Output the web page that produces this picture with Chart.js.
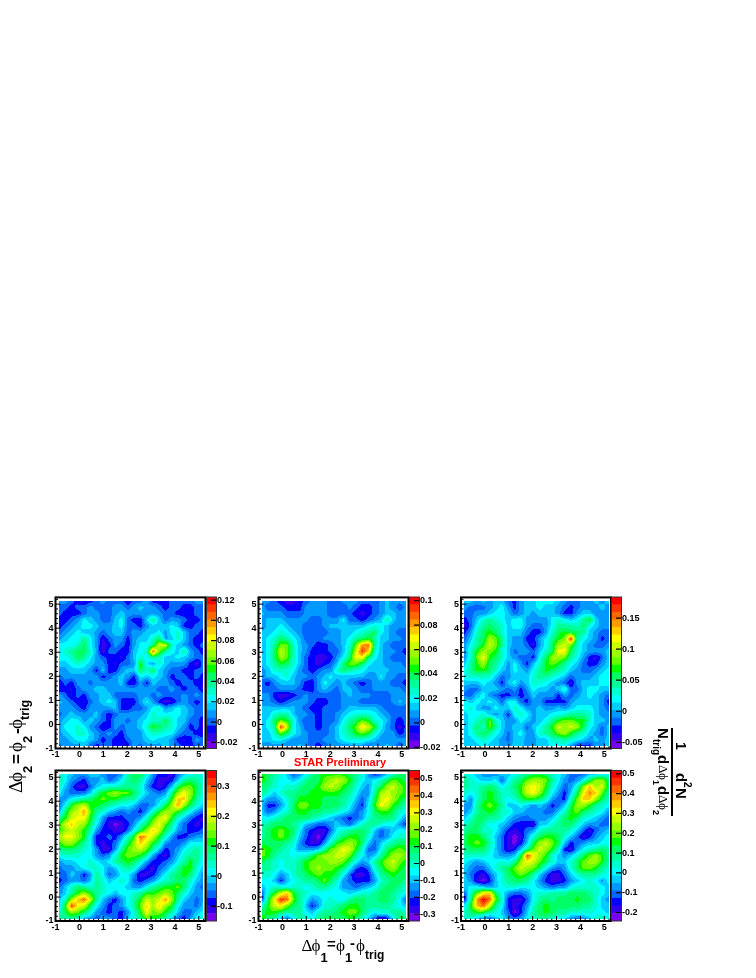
<!DOCTYPE html>
<html><head><meta charset="utf-8">
<style>
html,body{margin:0;padding:0;background:#fff;width:756px;height:978px;overflow:hidden}
canvas{position:absolute}
.t{position:absolute;white-space:nowrap;line-height:1;color:#000}
.g{font-family:"Liberation Serif",serif}
.s{font-family:"Liberation Sans",sans-serif;font-weight:bold}
</style>
<script src="https://cdn.jsdelivr.net/npm/chart.js@4"></script>
</head><body>
<script>
// bin centres (both axes)
const nodes=[-0.87,-0.61,-0.35,-0.08,0.18,0.44,0.70,0.96,1.23,1.49,1.75,2.01,2.27,2.54,2.80,3.06,3.32,3.58,3.85,4.11,4.37,4.63,4.89,5.15];
// values in thousandths, rows from top (y=5.15) to bottom (y=-0.87)
const panel1=[
[8,8,0,-8,-12,-8, 0,8,0,0,0,-12, 0,0,8,-8,-8,-8, 0,0,0,0,8,8],
[0,0,-8,0,0,8, 0,0,0,8,8,0, 8,15,8,8,0,-8, 0,0,-8,-8,0,0],
[0,-8,-8,-8,0,8, 8,0,0,8,15,8, 8,8,8,8,8,0, 0,-8,-8,-8,0,0],
[-8,-8,0,8,22,15, 8,0,0,15,22,0, -8,-8,15,38,15,0, 8,8,0,-8,-8,0],
[-8,0,8,15,22,22, 15,8,8,15,22,0, 0,-8,8,15,15,15, 22,15,-8,-8,0,0],
[0,8,15,22,15,15, 8,0,8,15,15,0, 8,8,15,15,22,8, 22,30,15,0,0,-8],
[8,15,22,22,38,22, 8,-12,0,8,8,-8, 8,15,15,30,45,8, 15,30,15,0,-8,-8],
[22,22,22,30,45,22, 8,-17,-8,8,0,-8, 8,22,22,38,75,75, 30,15,8,0,-8,0],
[22,30,38,45,45,30, 8,-17,0,0,-8,-8, 15,22,30,105,60,38, 22,15,38,8,0,-8],
[22,22,30,45,38,22, 8,0,-8,-8,-12,0, 15,30,22,38,30,15, 15,22,15,8,0,0],
[15,15,22,30,22,15, 8,8,-8,-12,0,0, 8,52,22,8,30,15, 8,8,8,-8,-17,0],
[8,8,15,15,15,8, -8,15,-8,-8,8,15, 15,45,30,45,15,8, 0,0,-8,-8,0,0],
[0,8,8,8,8,8, 8,-8,0,8,15,8, -8,22,15,22,15,8, -8,0,0,-8,0,-8],
[-12,0,-8,8,8,0, 8,8,8,8,15,-8, -12,8,-8,15,8,8, 0,-8,0,0,-8,-12],
[-12,-8,-12,0,8,8, 15,15,8,8,8,8, 8,8,8,8,0,0, 8,0,-8,0,0,-12],
[8,0,-12,0,-8,8, 8,15,15,0,0,0, 0,8,8,0,8,0, 0,0,8,0,8,0],
[15,8,0,-8,-12,0, 8,15,22,15,-8,-8, -8,8,22,8,-8,-17, -12,0,8,0,-8,0],
[8,8,8,0,-8,8, 8,8,8,15,-8,-8, 0,0,8,22,30,8, 15,22,15,8,0,0],
[0,8,15,8,8,8, 15,0,-8,0,8,8, 8,8,15,30,22,22, 22,22,15,8,0,0],
[8,15,22,22,8,15, 8,0,-8,8,8,0, 8,15,22,30,30,45, 30,15,15,0,0,-12],
[8,22,22,30,22,8, 0,-12,-8,8,0,8, 8,15,30,52,45,38, 30,15,8,-8,0,-12],
[8,15,22,30,30,15, 8,0,8,0,-8,8, 8,8,22,30,30,22, 22,8,0,0,-8,-12],
[8,8,15,22,22,15, 8,-8,0,-8,-8,0, 8,8,15,22,15,15, 8,-8,-12,-8,8,0],
[0,8,8,8,15,0, -8,0,0,-8,-12,-8, 8,0,8,8,8,15, 8,0,-8,-8,0,0]];
const panel2=[
[6,6,0,-6,-12,-12, -6,0,6,6,6,0, 0,6,6,6,0,0, 0,6,12,6,6,6],
[6,0,0,0,-6,-6, -6,6,6,6,6,0, 0,0,6,0,-6,-6, 0,6,12,6,0,6],
[12,6,6,6,0,0, 0,6,6,6,6,0, 0,0,0,-6,-12,-6, 0,6,12,12,6,6],
[6,12,12,12,6,6, 6,6,0,0,6,6, 6,19,0,0,-6,0, 6,12,31,12,6,6],
[6,12,12,19,12,6, 6,0,0,0,6,12, 12,12,12,12,12,19, 25,19,12,6,6,6],
[12,12,19,25,19,12, 6,0,0,0,0,6, 6,12,12,19,25,31, 37,19,12,6,0,0],
[12,19,25,37,31,19, 12,0,0,0,6,6, 6,12,19,31,37,43, 31,12,12,6,6,0],
[12,19,31,50,50,25, 12,6,0,-6,-6,0, 6,12,25,50,81,87, 31,12,6,0,0,0],
[12,19,37,62,50,25, 12,6,-6,-6,-6,0, 0,12,31,62,93,74, 25,12,6,6,0,-6],
[12,19,37,56,50,25, 12,0,-6,-12,-12,-6, 6,19,37,68,68,37, 19,12,6,0,0,0],
[12,19,31,43,37,25, 12,0,-6,-12,-6,0, 12,37,50,50,37,19, 12,12,6,6,6,0],
[6,12,25,25,25,19, 6,0,-6,0,6,6, 25,37,31,25,19,12, 12,12,12,6,6,6],
[6,12,12,19,25,12, 6,6,0,6,12,19, 12,12,12,12,12,6, 6,19,6,6,0,0],
[0,-6,6,12,12,12, 6,-6,-6,6,19,12, 6,12,6,0,-6,0, 6,6,6,0,0,-6],
[0,0,0,6,6,6, 0,-6,-6,6,12,6, 0,12,12,6,0,0, 6,6,6,6,6,0],
[6,6,-6,-12,-12,-6, 0,6,0,0,0,0, 0,6,12,6,6,6, 0,0,0,6,6,6],
[6,6,0,-6,0,6, 6,6,0,-6,-6,0, 0,6,6,6,0,0, 0,0,0,6,12,6],
[12,12,12,12,12,12, 6,0,-6,-6,0,0, 0,6,12,12,12,12, 12,6,0,0,0,0],
[12,12,25,31,31,12, 6,6,0,-6,0,0, 6,12,19,25,25,25, 19,12,6,0,0,0],
[12,19,37,50,43,25, 6,0,0,-6,0,0, 6,19,31,37,50,43, 25,19,12,0,-6,0],
[12,19,31,93,62,19, 12,0,0,-6,0,6, 12,25,37,50,74,62, 43,19,6,0,-12,0],
[12,12,25,50,37,19, 12,6,0,0,0,6, 12,25,31,43,50,43, 25,12,6,6,-6,0],
[12,12,19,19,12,6, 6,6,0,0,6,6, 12,19,25,25,25,19, 12,6,6,6,6,6],
[6,6,6,6,6,6, 12,6,0,-6,0,6, 6,6,6,6,6,0, 6,6,12,6,0,6]];
const panel3=[
[7,7,-5,7,-5,7, 7,-17,-29,-5,7,7, 20,20,20,7,-5,-17, -17,-5,-5,7,-5,7],
[-5,-17,-17,-17,-5,7, 20,-5,-29,-5,7,7, 20,7,7,-5,-17,-29, -17,-5,-5,-5,7,-5],
[-17,-17,-5,-5,7,20, 20,7,-17,-5,7,-5, 7,7,7,-5,-29,-29, -5,7,7,-5,-5,-5],
[-29,-17,7,32,44,32, 20,7,20,20,-5,-5, -5,-5,20,32,20,7, 20,44,68,7,-5,-5],
[-42,-17,20,44,56,44, 32,7,20,20,-5,-17, -17,-5,20,44,44,44, 32,56,20,7,-5,-5],
[-29,-5,32,56,68,56, 32,7,7,7,-17,-29, -29,-5,32,56,68,56, 56,44,7,-5,-17,-17],
[-17,7,44,56,93,81, 44,7,-5,-5,-29,-29, -5,20,44,68,81,170, 44,20,7,-5,-29,-17],
[-5,20,44,68,105,81, 44,7,-5,-5,-17,-42, -5,20,56,93,105,81, 32,7,-5,-17,-17,-5],
[-5,32,68,93,81,68, 32,7,-17,-5,-5,-17, 7,32,56,117,117,56, 32,7,-5,-5,-5,7],
[-5,32,81,117,68,56, 32,7,-5,-17,-17,-29, 20,56,93,93,81,44, 20,-5,-29,-42,-17,7],
[7,44,68,93,56,44, 20,-5,20,-5,-29,7, 32,68,81,68,44,20, 7,-17,-29,-29,-5,7],
[20,44,68,68,56,32, 7,-5,20,7,-5,20, 44,68,56,44,32,7, -5,-17,-17,-5,7,20],
[20,32,32,32,32,7, -17,-5,7,7,7,32, 44,44,32,20,7,-17, -5,-5,-5,7,20,20],
[7,7,7,20,7,-5, -29,7,20,-5,7,32, 32,20,7,-5,-17,-42, -5,7,7,7,20,20],
[-5,-17,-17,7,7,7, -5,-17,-5,-29,-5,20, 7,7,-5,7,32,-17, -17,7,20,20,7,7],
[-17,-17,7,20,-5,-17, -29,-29,-17,-29,-17,7, -5,-5,-5,-29,-5,-17, -5,7,20,7,-5,-17],
[20,7,20,7,20,7, -17,20,20,-17,-29,-5, -5,-29,-29,-29,-29,-5, 7,7,7,7,-5,-29],
[20,32,7,-5,-5,20, 7,7,32,20,-5,-5, 7,-5,-5,7,-5,7, 20,20,20,7,-5,-17],
[7,20,20,32,7,-5, 7,-29,20,32,20,-5, 7,7,20,20,32,44, 44,44,32,7,-5,-5],
[7,20,32,44,81,32, 7,-5,-5,20,7,-5, 7,20,44,68,81,81, 68,68,32,7,7,-5],
[7,20,56,32,81,44, 7,-5,7,7,-17,7, 20,44,68,105,93,105, 93,56,20,7,-17,7],
[7,20,44,56,44,20, 7,-17,7,20,-5,-5, 32,44,56,81,93,68, 44,32,7,-5,-17,7],
[7,7,20,32,20,7, -5,-17,7,7,-5,-5, 7,7,32,32,44,32, 20,7,-5,7,-5,7],
[7,7,7,20,7,7, -5,-5,7,7,-5,-5, 7,7,20,20,20,-5, -29,-29,-29,-5,-5,7]];
const panel4=[
[38,13,-12,-37,-37,-12, -12,-37,-62,-62,-37,63, 88,88,38,-37,-88,-88, -113,-62,-12,13,38,13],
[63,13,-37,-62,-88,-37, -37,-12,-62,-37,13,63, 88,63,-12,-62,-113,-113, -88,-12,63,88,63,38],
[38,-12,-62,-113,-113,-62, -12,13,38,38,63,63, 63,38,-37,-88,-113,-88, -12,88,138,138,88,38],
[13,-37,-62,-62,-62,-12, 63,113,138,163,138,138, 88,38,-12,-37,-62,-37, 63,163,213,163,88,38],
[-37,-37,13,38,63,88, 113,138,113,113,88,63, 63,-12,-37,-37,-12,13, 113,238,238,138,63,13],
[-62,13,113,163,188,113, 113,88,63,38,13,13, -12,-62,-62,-37,13,88, 163,263,163,88,38,-12],
[-37,88,163,188,263,138, 63,38,-12,-37,-62,-37, -62,-88,-37,38,113,163, 163,113,63,13,-37,-62],
[63,113,188,213,213,113, 38,-37,-88,-88,-88,-62, -62,-37,38,113,188,213, 113,38,-12,-62,-88,-113],
[113,188,238,188,163,88, 13,-62,-113,-138,-113,-88, -37,38,88,163,213,138, 63,-12,-62,-88,-113,-88],
[113,163,188,163,113,63, -37,-88,-88,-113,-113,-62, 13,88,163,238,188,88, 38,-37,-62,-88,-88,-62],
[163,213,213,163,113,13, -88,-88,-62,-88,-37,38, 113,288,238,188,113,38, -37,-88,-88,-62,-37,-37],
[113,163,163,113,63,13, -88,-113,-88,-62,13,88, 163,238,188,113,63,-37, -62,-62,-37,13,13,13],
[63,88,88,63,38,13, -37,-113,-113,-37,63,138, 163,188,138,63,-12,-88, -62,-37,13,38,63,38],
[13,38,38,38,13,13, -37,-62,-37,38,113,138, 138,113,63,-37,-88,-113, -62,-12,38,63,63,38],
[-37,-12,-12,13,13,38, 13,-12,13,63,88,113, 88,38,-37,-88,-88,-62, -37,13,63,113,63,13],
[-62,-37,-37,-12,13,38, 38,13,-37,-12,38,63, 38,-37,-88,-113,-62,-37, 13,63,113,113,38,-12],
[-62,-62,-12,-37,-88,-37, 63,13,-62,-37,13,13, -37,-113,-113,-88,-37,13, 63,88,113,88,13,-37],
[-88,-62,-37,-37,-62,-12, 63,38,-12,13,38,13, -62,-88,-62,-37,13,38, 63,88,88,38,-12,-37],
[-62,-12,38,88,63,38, 63,38,13,13,13,-12, -37,-37,13,63,88,113, 113,138,88,13,-37,-62],
[-37,-12,63,113,163,113, 63,38,13,-12,13,13, 38,63,113,113,138,163, 138,88,38,-12,-37,-37],
[-12,38,163,238,288,188, 63,-12,-62,-88,-37,13, 63,113,188,163,188,263, 163,63,-12,-37,-62,-37],
[-12,113,313,213,188,88, 13,-37,-88,-62,-37,13, 63,138,238,163,238,163, 113,13,-37,-37,-62,-12],
[38,88,163,138,88,38, -37,-62,-88,-62,-88,-37, 38,113,213,138,163,113, 63,-12,-62,-62,-12,13],
[63,63,63,38,-12,-37, -62,-37,-37,-62,-88,-12, 38,63,138,113,88,63, -12,-62,-88,-37,13,38]];
const panel5=[
[128,83,39,-6,-95,-184, -140,-50,39,83,128,128, 128,128,83,39,-6,-140, -229,-184,-95,-6,83,83],
[128,83,-6,-50,-50,-95, -50,39,83,83,172,217, 261,217,128,39,-50,-95, -50,-6,83,172,128,83],
[83,39,-6,-50,-6,-6, 39,83,83,128,217,261, 217,128,83,-6,-95,-140, -6,83,217,261,172,128],
[39,-6,-95,-6,39,39, 83,83,128,128,128,128, 128,83,39,-50,-140,-140, 39,217,261,217,172,128],
[-50,-140,-140,-95,-6,39, 128,128,128,128,83,83, 83,39,-6,-95,-184,-95, 83,261,306,217,128,83],
[-95,-229,-229,-140,-50,83, 172,172,128,128,83,83, 83,39,-50,-140,-229,-50, 128,306,261,128,83,-6],
[-95,-184,-140,-50,-6,83, 128,128,83,83,39,39, -6,-50,-95,-184,-140,-50, 83,128,128,83,-6,-50],
[-50,-50,-6,39,83,83, 83,83,39,-6,-50,-95, -140,-184,-229,-184,-140,-6, 39,83,83,39,-50,-140],
[-6,39,83,83,83,39, -6,-95,-140,-184,-184,-140, -95,-140,-184,-95,-6,39, 39,-6,-50,-50,-140,-229],
[39,83,128,172,128,83, -50,-184,-229,-273,-273,-184, -50,-6,39,83,83,39, -95,-184,-140,-95,-50,-50],
[39,83,128,172,128,39, -95,-184,-273,-318,-229,-95, -6,83,128,128,83,-6, -140,-184,-140,-50,-6,-6],
[83,83,83,83,39,-6, -140,-229,-273,-273,-140,-6, 128,172,217,172,83,-95, -184,-95,-6,39,83,83],
[172,128,83,39,-6,-50, -140,-140,-140,-95,39,172, 217,306,261,128,-6,-184, -184,-50,83,128,172,128],
[172,128,39,-6,-6,-50, -6,-6,83,172,217,217, 261,261,172,39,-50,-140, -95,39,128,217,217,172],
[83,39,-6,-50,-6,-6, 39,128,172,172,172,217, 217,172,83,-50,-140,-95, 39,128,217,261,172,128],
[39,39,-6,-50,-6,-6, 39,128,172,217,172,172, 128,83,-50,-184,-229,-184, -6,83,172,217,128,83],
[-6,-6,-50,-140,-95,-6, 39,83,128,172,128,128, 83,-50,-184,-273,-273,-229, -95,39,83,128,83,83],
[-50,-50,-95,-229,-95,-50, -6,39,39,83,172,83, -6,-140,-184,-229,-229,-229, -140,-6,39,83,83,39],
[-95,-50,-6,-6,-50,-6, -6,-50,-6,39,39,-6, -50,-140,-140,-184,-140,-95, -50,39,83,83,39,-6],
[-184,-6,128,261,350,128, 39,-6,-50,-50,-50,-50, -50,-50,-95,-50,-6,-6, 39,83,83,39,-6,-50],
[-184,83,306,484,440,172, 39,-50,-140,-95,-50,-6, -50,-50,39,83,83,39, 39,83,83,39,-50,-184],
[-6,128,261,306,172,83, 39,-95,-229,-140,-6,-6, 39,83,128,128,83,39, 39,39,39,-6,-50,-95],
[83,128,128,83,39,39, 39,-50,-95,-6,39,39, 83,128,172,172,83,-6, -50,-6,-6,39,39,-6],
[128,83,39,-95,-184,-50, 39,-6,-50,39,83,83, 83,83,128,83,-6,-95, -184,-273,-229,-50,83,83]];
const panel6=[
[42,4,-34,-72,-72,-72, -34,-34,4,42,80,118, 118,118,42,4,-34,-110, -110,-110,-34,-34,4,4],
[80,42,4,-34,-34,4, -110,4,80,118,194,232, 232,194,80,4,-72,-110, -72,4,118,232,232,118],
[80,42,42,80,118,80, 4,42,118,156,270,308, 270,156,42,-34,-110,-72, 42,232,346,232,270,118],
[42,4,42,118,156,118, 42,42,80,156,270,308, 232,118,4,-72,-148,-34, 118,308,384,346,194,80],
[4,-72,42,118,156,118, 42,4,42,118,156,156, 118,42,-72,-110,-148,42, 194,346,346,232,118,42],
[-72,-72,80,156,194,156, 80,-34,-34,4,-34,-72, -34,-72,-148,-110,-34,118, 232,232,156,80,42,4],
[-72,-34,80,118,156,118, 42,42,-34,-34,-72,-72, -72,-110,-110,-34,42,156, 194,118,80,42,4,-72],
[-34,42,118,118,80,80, 42,-34,-72,-110,-110,-72, -72,-72,-34,42,118,156, 118,42,4,-34,-72,-110],
[42,80,118,80,4,4, -34,-72,-148,-148,-148,-186, -34,-34,42,80,118,118, 42,-34,-72,-72,-110,-110],
[80,118,118,42,42,4, -72,-148,-186,-148,-110,-72, 42,80,80,80,80,42, -34,-110,-186,-110,-72,-34],
[118,156,156,118,42,-34, -110,-186,-224,-186,-72,42, 118,156,156,118,42,-34, -110,-186,-148,-72,-34,4],
[118,156,194,156,80,-34, -110,-186,-224,-148,-34,118, 232,270,194,118,-34,-148, -110,-72,-34,-34,4,4],
[80,118,118,118,42,-34, -110,-186,-148,-34,80,194, 270,232,156,42,-148,-186, -72,4,42,80,118,80],
[42,42,42,42,4,-34, -72,-72,-34,118,440,308, 232,156,42,-34,-72,-34, 42,118,194,232,156,80],
[4,-34,-72,-34,4,4, 42,4,80,232,308,270, 194,118,42,-34,-34,42, 118,194,232,232,156,80],
[-34,-72,-110,-110,-34,42, 80,118,194,270,232,194, 118,4,-72,-110,-72,42, 118,194,194,156,80,42],
[-34,-110,-148,-186,-110,-34, 42,118,156,194,156,80, -34,-110,-186,-186,-110,-34, 42,80,80,80,42,4],
[-34,-72,-186,-224,-148,-34, 42,80,118,118,80,4, -72,-148,-186,-186,-148,-72, -34,4,42,4,-72,4],
[-34,4,4,-34,-72,-34, 4,42,42,4,4,4, -34,-72,-110,-72,-72,4, 42,42,42,42,4,-34],
[-110,42,194,308,346,118, 4,-72,-110,-110,-72,4, 42,42,80,80,80,118, 118,118,80,42,4,-34],
[-148,80,384,498,422,194, 42,-148,-186,-186,-110,4, 80,118,80,118,118,118, 156,118,118,42,-34,-72],
[4,156,346,422,270,80, 4,-148,-186,-148,-72,42, 118,156,118,118,118,118, 118,80,80,42,-34,-34],
[42,118,156,156,80,42, -34,-110,-224,-148,-34,80, 118,156,118,80,80,42, 42,42,42,4,4,-34],
[42,42,-34,-72,-110,-34, 4,-72,-110,-72,4,42, 80,80,42,4,4,-72, -110,-72,-34,42,42,42]];
const palette=['#7700ee','#3300ee','#0000ff','#0066ff','#0099ff','#00ccff','#00ffff','#00ffcc','#00ff99','#00ff66','#00ff00','#66ff00','#99ff00','#ccff00','#ffff00','#ffcc00','#ff9900','#ff6600','#ff3300','#ff0000'];
const panels=[
 {data:panel1,zmin:-0.026,zmax:0.123,step:0.02,left:55.5,top:597,bottom:748.5},
 {data:panel2,zmin:-0.021,zmax:0.103,step:0.02,left:258.5,top:597,bottom:748.5},
 {data:panel3,zmin:-0.060,zmax:0.184,step:0.05,left:461,top:597,bottom:748.5},
 {data:panel4,zmin:-0.150,zmax:0.353,step:0.1,left:55.5,top:770.5,bottom:921},
 {data:panel5,zmin:-0.340,zmax:0.550,step:0.1,left:258.5,top:770.5,bottom:921},
 {data:panel6,zmin:-0.243,zmax:0.517,step:0.1,left:461,top:770.5,bottom:921}];
const PW=150;
const rgb=palette.map(h=>[parseInt(h.slice(1,3),16),parseInt(h.slice(3,5),16),parseInt(h.slice(5,7),16)]);
const FONT={family:'"Liberation Sans",Arial,sans-serif',weight:'bold',size:9};

class ContourController extends Chart.ScatterController{
  draw(){
    const meta=this._cachedMeta,xs=meta.xScale,ys=meta.yScale,ds=this.getDataset(),ctx=this.chart.ctx;
    const g=ds.grid,n=g.length,xn=ds.xNodes,yn=ds.yNodes;
    const x0=Math.round(xs.getPixelForValue(xn[0])),x1=Math.round(xs.getPixelForValue(xn[n-1]));
    const y0=Math.round(ys.getPixelForValue(yn[n-1])),y1=Math.round(ys.getPixelForValue(yn[0]));
    const w=x1-x0+1,h=y1-y0+1,off=document.createElement('canvas');off.width=w;off.height=h;
    const oc=off.getContext('2d'),img=oc.createImageData(w,h);
    for(let py=0;py<h;py++)for(let px=0;px<w;px++){
      const vx=xs.getValueForPixel(x0+px),vy=ys.getValueForPixel(y0+py);
      let i=0;while(i<n-2&&vx>xn[i+1])i++;
      let j=0;while(j<n-2&&vy>yn[j+1])j++;
      const fx=Math.min(1,Math.max(0,(vx-xn[i])/(xn[i+1]-xn[i]))),fy=Math.min(1,Math.max(0,(vy-yn[j])/(yn[j+1]-yn[j])));
      const v=g[n-1-j][i]*(1-fx)*(1-fy)+g[n-1-j][i+1]*fx*(1-fy)+g[n-2-j][i]*(1-fx)*fy+g[n-2-j][i+1]*fx*fy;
      const l=Math.max(0,Math.min(19,Math.floor((v/1000-ds.zmin)/(ds.zmax-ds.zmin)*20)));
      const k=(py*w+px)*4;img.data[k]=rgb[l][0];img.data[k+1]=rgb[l][1];img.data[k+2]=rgb[l][2];img.data[k+3]=255;
    }
    oc.putImageData(img,0,0);
    ctx.save();ctx.filter='blur(0.6px)';ctx.drawImage(off,x0,y0);ctx.restore();
  }
}
ContourController.id='contour';
ContourController.defaults=Chart.ScatterController.defaults;
Chart.register(ContourController);

const frameTicks={id:'frameTicks',afterDraw(c){
  const ctx=c.ctx,a=c.chartArea,xs=c.scales.x,ys=c.scales.y;
  ctx.save();ctx.strokeStyle='#000';ctx.lineWidth=1;ctx.beginPath();
  xs.ticks.forEach(t=>{const p=xs.getPixelForValue(t.value),big=Math.abs(t.value-Math.round(t.value))<1e-6;ctx.moveTo(p,a.bottom);ctx.lineTo(p,a.bottom-(big?5:2.5));});
  ys.ticks.forEach(t=>{const p=ys.getPixelForValue(t.value),big=Math.abs(t.value-Math.round(t.value))<1e-6;ctx.moveTo(a.left,p);ctx.lineTo(a.left+(big?5:2.5),p);});
  ctx.stroke();
  ctx.lineWidth=2;ctx.strokeRect(a.left,a.top,a.right-a.left,a.bottom-a.top);
  ctx.restore();
}};
const barTicks={id:'barTicks',afterDraw(c){
  const ctx=c.ctx,a=c.chartArea,ys=c.scales.y;
  ctx.save();ctx.strokeStyle='#000';ctx.lineWidth=1.2;ctx.beginPath();
  ys.ticks.forEach(t=>{const p=ys.getPixelForValue(t.value);ctx.moveTo(a.right,p);ctx.lineTo(a.right-5,p);});
  ctx.stroke();
  ctx.strokeStyle='#333';ctx.lineWidth=1;ctx.strokeRect(a.left+0.5,a.top,a.right-a.left,a.bottom-a.top);
  ctx.restore();
}};
function addCanvas(l,t,w,h){const c=document.createElement('canvas');c.width=w;c.height=h;c.style.left=l+'px';c.style.top=t+'px';c.style.width=w+'px';c.style.height=h+'px';document.body.appendChild(c);return c;}
const intLabel=v=>Math.abs(v-Math.round(v))<1e-6?String(Math.round(v)):'';

panels.forEach(p=>{
  const cl=Math.floor(p.left)-26,ct=Math.floor(p.top)-7,cw=Math.ceil(PW)+26+4,ch=Math.ceil(p.bottom-p.top)+7+16;
  const pts=[];p.data.forEach((r,ri)=>r.forEach((v,ci)=>pts.push({x:nodes[ci],y:nodes[nodes.length-1-ri],v:v/1000})));
  new Chart(addCanvas(cl,ct,cw,ch),{
    type:'scatter',
    data:{datasets:[{type:'contour',data:pts,grid:p.data,xNodes:nodes,yNodes:nodes,zmin:p.zmin,zmax:p.zmax,pointRadius:0,showLine:false}]},
    options:{responsive:false,animation:false,devicePixelRatio:1,events:[],
      layout:{padding:{top:p.top-ct,right:cw-26-(p.left-cl-26)-PW,left:0,bottom:0}},
      plugins:{legend:{display:false},tooltip:{enabled:false}},
      scales:{
        x:{type:'linear',min:-1,max:5.28,border:{display:false},grid:{display:false,drawTicks:false},
           ticks:{stepSize:0.2,includeBounds:false,autoSkip:false,maxRotation:0,padding:1,color:'#000',font:FONT,callback:intLabel},
           afterFit(s){s.height=ch-(p.bottom-ct);}},
        y:{type:'linear',min:-1,max:5.28,border:{display:false},grid:{display:false,drawTicks:false},
           ticks:{stepSize:0.2,includeBounds:false,autoSkip:false,padding:2,color:'#000',font:FONT,callback:intLabel},
           afterFit(s){s.width=p.left-cl;}}
      }},
    plugins:[frameTicks]});
  // colour scale
  const bl=Math.round(p.left+PW),bw=34;
  const dz=(p.zmax-p.zmin)/20;
  const sets=palette.map((col,i)=>({data:[[p.zmin+i*dz,p.zmin+(i+1)*dz]],backgroundColor:col,borderWidth:0,barPercentage:1,categoryPercentage:1}));
  new Chart(addCanvas(bl,ct,bw,ch),{
    type:'bar',
    data:{labels:['z'],datasets:sets},
    options:{responsive:false,animation:false,devicePixelRatio:1,events:[],
      layout:{padding:{top:p.top-ct,bottom:ch-(p.bottom-ct),left:0,right:0}},
      plugins:{legend:{display:false},tooltip:{enabled:false}},
      scales:{
        x:{display:false,stacked:true},
        y:{position:'right',min:p.zmin,max:p.zmax,border:{display:false},grid:{display:false,drawTicks:false},
           ticks:{stepSize:p.step,includeBounds:false,padding:1,color:'#000',font:FONT,callback:v=>String(+v.toFixed(2))},
           afterFit(s){s.width=bw-10;}}
      }},
    plugins:[barTicks]});
});

// text
function put(parent,x,y,txt,cls,size,extra){const e=document.createElement('span');e.className='t '+cls;e.textContent=txt;e.style.left=x+'px';e.style.top=y+'px';e.style.fontSize=size+'px';if(extra)e.style.cssText+=extra;parent.appendChild(e);return e;}
function box(css){const d=document.createElement('div');d.style.cssText='position:absolute;'+css;document.body.appendChild(d);return d;}
put(document.body,294,756.5,'STAR Preliminary','s',11,'color:#ff0000');
// x title
const xt=box('left:0;top:0');
put(xt,301.5,936.5,'\u0394','g',17);put(xt,311.5,936.5,'\u03d5','g',17);put(xt,320.5,951,'1','s',13);
put(xt,327,936,'=','s',15);put(xt,336,936.5,'\u03d5','g',17);put(xt,345,951,'1','s',13);
put(xt,350,935,'-','s',15);put(xt,356,936.5,'\u03d5','g',17);put(xt,365,949,'trig','s',12);
// y title
const yt=box('left:8px;top:793px;transform:rotate(-90deg);transform-origin:0 0');
put(yt,0,-2,'\u0394','g',19);put(yt,11,-2,'\u03d5','g',19);put(yt,20,13,'2','s',13);
put(yt,29,0,'=','s',17);put(yt,41,-2,'\u03d5','g',19);put(yt,50,13,'2','s',13);
put(yt,59,0,'-','s',17);put(yt,64,-2,'\u03d5','g',19);put(yt,73,11,'trig','s',12.5);
// z title
const zt=box('left:692px;top:728px;transform:rotate(90deg);transform-origin:0 0;width:90px;height:45px');
const ln=document.createElement('div');ln.style.cssText='position:absolute;left:0;top:19px;width:88px;height:1.5px;background:#000';zt.appendChild(ln);
put(zt,14,4,'1','s',14);put(zt,45,3,'d','s',15);put(zt,54,0,'2','s',10);put(zt,60,3,'N','s',15);
put(zt,0,21,'N','s',15);put(zt,11,31,'trig','s',10);put(zt,27,21,'d','s',15);put(zt,37,22,'\u0394','g',13);put(zt,45,22,'\u03d5','g',13);put(zt,52,32,'1','s',9);
put(zt,58,21,'d','s',15);put(zt,67,22,'\u0394','g',13);put(zt,75,22,'\u03d5','g',13);put(zt,82,32,'2','s',9);
</script>
</body></html>
